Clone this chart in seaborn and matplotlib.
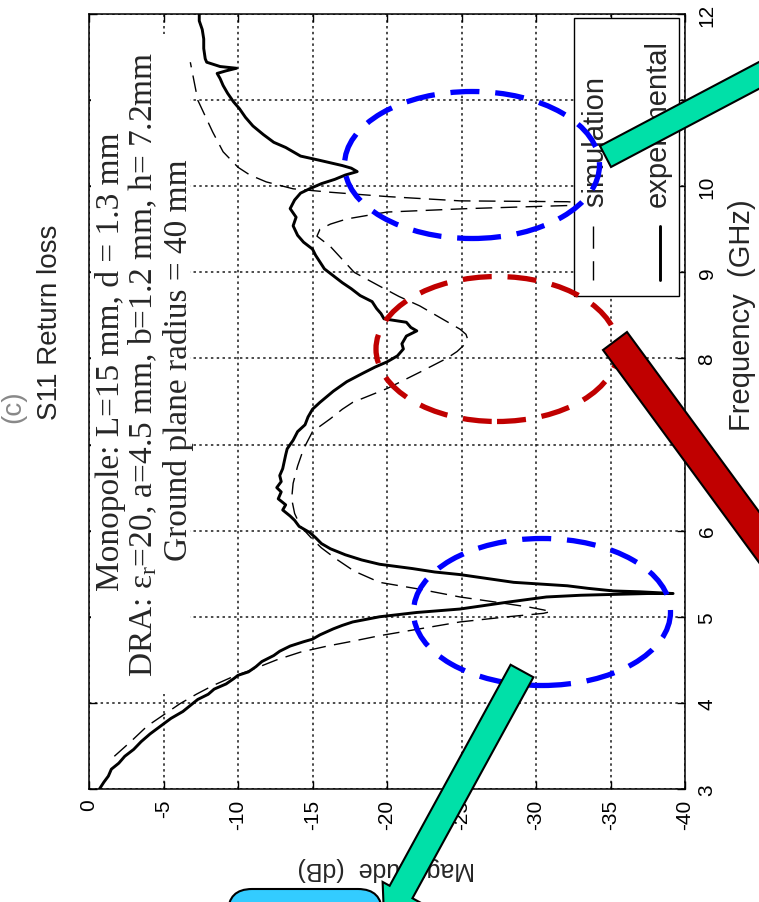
import matplotlib
matplotlib.use("Agg")
import matplotlib.pyplot as plt
import seaborn as sns
from matplotlib.patches import Ellipse, Rectangle, Polygon, FancyBboxPatch
from matplotlib.lines import Line2D
from matplotlib.transforms import IdentityTransform

exp_freq = [3.00, 3.08, 3.15, 3.23, 3.30, 3.38, 3.46, 3.55, 3.64, 3.73, 3.82, 3.90,
            3.97, 4.04, 4.10, 4.16, 4.22, 4.28, 4.32, 4.36, 4.42, 4.48, 4.55, 4.60,
            4.66, 4.71, 4.74, 4.79, 4.86, 4.90, 4.94, 4.97, 5.00, 5.05, 5.09, 5.13,
            5.17, 5.20, 5.23, 5.25, 5.26, 5.27, 5.27, 5.29, 5.30, 5.33, 5.36, 5.38,
            5.40, 5.45, 5.49, 5.52, 5.56, 5.61, 5.66, 5.72, 5.79, 5.85, 5.92, 5.98,
            6.05, 6.12, 6.17, 6.24, 6.30, 6.37, 6.45, 6.50, 6.57, 6.64, 6.72, 6.80,
            6.88, 6.95, 7.05, 7.15, 7.23, 7.32, 7.41, 7.49, 7.62, 7.73, 7.83, 7.90,
            7.96, 8.03, 8.11, 8.17, 8.26, 8.32, 8.36, 8.42, 8.46, 8.52, 8.58, 8.66,
            8.73, 8.81, 8.88, 8.96, 9.04, 9.12, 9.20, 9.27, 9.35, 9.43, 9.54, 9.64,
            9.74, 9.84, 9.92, 9.97, 10.03, 10.08, 10.13, 10.17, 10.21, 10.24, 10.30,
            10.35, 10.40, 10.45, 10.51, 10.60, 10.70, 10.80, 10.90, 10.98, 11.08,
            11.17, 11.25, 11.31, 11.34, 11.37, 11.39, 11.44, 11.48, 11.60, 11.71,
            11.82, 11.92, 12.00]
exp_mag = [-0.7, -1.0, -1.3, -1.5, -2.0, -2.4, -3.0, -3.5, -4.1, -4.8, -5.5, -6.3,
           -6.8, -7.3, -8.0, -8.4, -9.2, -9.7, -10.0, -10.7, -11.2, -11.6, -12.4, -12.8,
           -13.5, -14.4, -15.0, -15.5, -16.4, -17.0, -17.7, -18.6, -19.5, -22.0, -24.9, -26.5,
           -28.1, -29.4, -30.7, -33.0, -35.2, -37.5, -39.2, -37.0, -35.2, -33.5, -32.1, -30.3,
           -28.5, -26.5, -24.9, -23.2, -21.7, -19.5, -18.3, -17.2, -16.2, -15.6, -15.2, -14.8,
           -14.1, -13.8, -13.5, -13.0, -13.2, -12.7, -12.9, -12.6, -12.9, -12.8, -13.0, -13.1,
           -13.2, -13.3, -13.7, -14.0, -14.5, -14.7, -15.0, -15.5, -16.4, -17.3, -18.4, -19.2,
           -20.0, -20.7, -21.1, -21.0, -21.3, -22.0, -21.6, -21.3, -19.8, -19.6, -19.3, -19.0,
           -18.2, -17.6, -17.0, -16.4, -15.8, -15.5, -15.2, -15.0, -14.4, -14.0, -13.7, -13.9,
           -13.5, -13.8, -14.2, -14.8, -15.6, -16.5, -17.2, -18.0, -17.6, -17.0, -15.5,
           -14.2, -13.7, -13.2, -12.4, -11.7, -11.0, -10.5, -10.1, -9.7, -9.3,
           -9.0, -8.8, -8.6, -9.2, -9.9, -8.8, -7.9, -7.8, -7.7, -7.7,
           -7.6, -7.4, -7.4]

sim_freq = [3.38, 3.55, 3.73, 3.86, 3.99, 4.10, 4.20, 4.30, 4.39, 4.50, 4.59, 4.66,
            4.72, 4.78, 4.86, 4.94, 5.00, 5.04, 5.06, 5.08, 5.11, 5.15, 5.23, 5.32,
            5.40, 5.53, 5.67, 5.80, 5.90, 6.05, 6.20, 6.37, 6.55, 6.75, 6.95, 7.15,
            7.30, 7.41, 7.49, 7.65, 7.84, 8.00, 8.08, 8.16, 8.23, 8.28, 8.34, 8.45,
            8.61, 8.72, 8.84, 9.00, 9.15, 9.30, 9.42, 9.50, 9.56, 9.62, 9.70, 9.74,
            9.77, 9.79, 9.81, 9.82, 9.83, 9.88, 9.93, 9.97, 10.05, 10.13, 10.22,
            10.40, 10.63, 11.00, 11.44]
sim_mag = [-1.7, -2.8, -3.9, -5.0, -6.1, -7.2, -8.3, -9.6, -11.0, -12.6, -14.2, -16.0,
           -17.8, -19.5, -22.2, -24.9, -28.1, -30.5, -31.0, -30.5, -29.6, -28.1, -24.9, -22.2,
           -19.5, -17.8, -16.6, -15.6, -15.0, -14.2, -13.8, -13.6, -13.7, -14.0, -14.4, -15.0,
           -16.2, -17.0, -17.7, -20.0, -22.2, -24.0, -24.7, -25.2, -25.4, -25.3, -24.9, -23.8,
           -22.2, -20.8, -19.5, -17.8, -17.0, -16.2, -15.3, -15.5, -16.2, -17.3, -20.0, -25.4,
           -31.0, -35.0, -33.0, -32.1, -24.9, -20.0, -16.2, -13.7, -11.9, -10.8, -10.0,
           -9.0, -8.3, -7.3, -6.8]

mag_ticks = [0, -5, -10, -15, -20, -25, -30, -35, -40]
mag_tick_labels = ["0", "-5", "-10", "-15", "-20", "-25", "-30", "-35", "-40"]
freq_ticks = [3, 4, 5, 6, 7, 8, 9, 10, 11, 12]
freq_tick_labels = [str(f) for f in freq_ticks]

sns.set_theme(style="white")
plt.rcParams["font.family"] = ["Liberation Sans", "DejaVu Sans"]
plt.rcParams["axes.unicode_minus"] = False
plt.rcParams["mathtext.fontset"] = "custom"
plt.rcParams["mathtext.rm"] = "Liberation Serif"
plt.rcParams["mathtext.it"] = "Liberation Serif:italic"

W, H = 759, 903
fig = plt.figure(figsize=(W / 100, H / 100), dpi=100)
fig.patch.set_facecolor("white")
# the whole chart is turned a quarter turn: frequency runs up, magnitude runs right
ax = fig.add_axes([89 / W, 1 - 790 / H, (685 - 89) / W, (790 - 15) / H])

sim_dash = (0, (12, 6))
sns.lineplot(x=sim_mag, y=sim_freq, sort=False, estimator=None, color="black",
             lw=1.0, linestyle=sim_dash, ax=ax, zorder=2)
sns.lineplot(x=exp_mag, y=exp_freq, sort=False, estimator=None, color="black",
             lw=2.1, ax=ax, zorder=3)

ax.set_xlim(0, -40)
ax.set_ylim(3, 12)
ax.set_xlabel("")
ax.set_ylabel("")
ax.set_xticks(mag_ticks)
ax.set_xticklabels(mag_tick_labels)
ax.set_yticks(freq_ticks)
ax.set_yticklabels(freq_tick_labels)
ax.grid(True, color="#1a1a1a", linestyle=(0, (1.6, 2.2)), linewidth=1.1)
ax.set_axisbelow(True)
for s in ax.spines.values():
    s.set_visible(True)
    s.set_color("black")
    s.set_linewidth(1.1)

ax.tick_params(direction="in", length=6, width=1, colors="black",
               top=True, bottom=True, left=True, right=True,
               labelleft=False, labelright=True, labeltop=False, labelbottom=True)
ax.tick_params(axis="x", labelsize=15, pad=7, labelrotation=90)
ax.tick_params(axis="y", labelsize=15, pad=9, labelrotation=90)
for t in ax.get_yticklabels():
    t.set_va("center")


def axx(px):
    return (px - 89) / 596


def axy(py):
    return (790 - py) / 775


# white box behind the parameter text
ax.add_patch(Rectangle((axx(91), axy(695)), axx(190) - axx(91), axy(35) - axy(695),
                       transform=ax.transAxes, fc="white", ec="none", zorder=1))

# legend, drawn by hand because it is turned as well
ax.add_patch(Rectangle((axx(574), axy(297)), axx(679) - axx(574), axy(19) - axy(297),
                       transform=ax.transAxes, fc="white", ec="black", lw=1.0, zorder=4))
ax.add_line(Line2D([axx(593), axx(593)], [axy(227), axy(281)], transform=ax.transAxes,
                   color="black", lw=1.0, linestyle=(0, (16, 9)), zorder=5))
ax.add_line(Line2D([axx(660), axx(660)], [axy(227), axy(281)], transform=ax.transAxes,
                   color="black", lw=2.1, zorder=5))
ax.text(axx(603), axy(207), "simulation", rotation=90, rotation_mode="anchor",
        ha="left", va="baseline", fontsize=21, transform=ax.transAxes, zorder=6)
ax.text(axx(666), axy(207), "experimental", rotation=90, rotation_mode="anchor",
        ha="left", va="baseline", fontsize=21, transform=ax.transAxes, zorder=6)


def fx(px):
    return px / W


def fy(py):
    return 1 - py / H


serif = ["Liberation Serif", "DejaVu Serif"]
fig.text(fx(119), fy(362), "Monopole: L=15 mm, d = 1.3 mm", rotation=90,
         rotation_mode="anchor", ha="center", va="baseline", fontsize=24, family=serif)
fig.text(fx(152), fy(364), r"DRA: $\mathrm{\varepsilon}_\mathrm{r}$=20, a=4.5 mm, b=1.2 mm, h= 7.2mm",
         rotation=90, rotation_mode="anchor", ha="center", va="baseline",
         fontsize=24, family=serif)
fig.text(fx(187), fy(360), "Ground plane radius = 40 mm", rotation=90,
         rotation_mode="anchor", ha="center", va="baseline", fontsize=24, family=serif)

fig.text(fx(57), fy(322), "S11 Return loss", rotation=90, rotation_mode="anchor",
         ha="center", va="baseline", fontsize=20)
fig.text(fx(20), fy(407), "(c)", rotation=90, rotation_mode="anchor",
         ha="center", va="baseline", fontsize=20, color="#888888")
fig.text(fx(750), fy(315), "Frequency  (GHz)", rotation=90, rotation_mode="anchor",
         ha="center", va="baseline", fontsize=21)
fig.text(fx(386), fy(862), "Magnitude  (dB)", rotation=180, rotation_mode="anchor",
         ha="center", va="baseline", fontsize=18)

# dashed ellipses and block arrows laid over the picture (pixel coordinates)
px_tr = IdentityTransform()


def P(x, y):
    return (x, H - y)


ell_style = dict(fill=False, lw=3.8, linestyle=(0, (5.5, 3)), transform=px_tr, zorder=8)
fig.add_artist(Ellipse(P(472, 166), 255, 147, ec="#0000FF", **ell_style))
fig.add_artist(Ellipse(P(497, 350), 242, 145, ec="#C00000", **ell_style))
fig.add_artist(Ellipse(P(542, 613), 257, 147, ec="#0000FF", **ell_style))

teal = "#00E0A8"
L = 320
top_arrow = [P(600, 147), P(611, 168),
             P(611 + 0.884 * L, 168 - 0.467 * L), P(600 + 0.884 * L, 147 - 0.467 * L)]
fig.add_artist(Polygon(top_arrow, closed=True, fc=teal, ec="black", lw=1.5,
                       transform=px_tr, zorder=10))
red_arrow = [P(603, 351), P(627, 333),
             P(627 + 0.592 * L, 333 + 0.806 * L), P(603 + 0.592 * L, 351 + 0.806 * L)]
fig.add_artist(Polygon(red_arrow, closed=True, fc="#C00000", ec="black", lw=1.5,
                       transform=px_tr, zorder=10))

sx, sy = 522, 672
ux, uy = -0.48, 0.877
nx, ny = 0.877, 0.48
t = 252
cx, cy = sx + ux * t, sy + uy * t
hw, hh, hl = 13, 21, 35
bottom_arrow = [P(sx - nx * hw, sy - ny * hw), P(sx + nx * hw, sy + ny * hw),
                P(cx + nx * hw, cy + ny * hw), P(cx + nx * hh, cy + ny * hh),
                P(cx + ux * hl, cy + uy * hl),
                P(cx - nx * hh, cy - ny * hh), P(cx - nx * hw, cy - ny * hw)]
fig.add_artist(Polygon(bottom_arrow, closed=True, fc=teal, ec="black", lw=1.5,
                       transform=px_tr, zorder=10))

fig.add_artist(FancyBboxPatch(P(228, 950), 154, 60,
                              boxstyle="round,pad=0,rounding_size=24",
                              fc="#33CCFF", ec="black", lw=1.5,
                              transform=px_tr, zorder=10))

fig.savefig("out.png", dpi=100, facecolor="white")
